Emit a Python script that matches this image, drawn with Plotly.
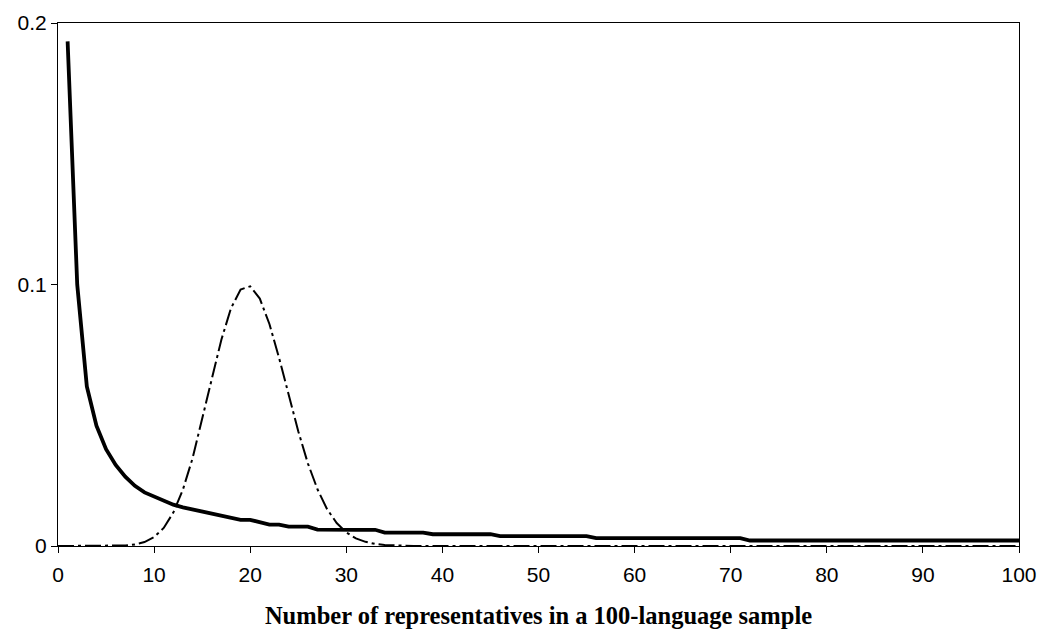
import plotly.graph_objects as go

# x positions (number of representatives)
x_vals = list(range(0, 101))

# thick solid curve (values read for x = 1..100)
solid_x = list(range(1, 101))
solid_y = [
    0.193, 0.100, 0.061, 0.046, 0.037, 0.031, 0.0265, 0.0230, 0.0205, 0.0190,
    0.0172, 0.0158, 0.0148, 0.0140, 0.0132, 0.0124, 0.0116, 0.0108, 0.0100, 0.0100,
    0.0090, 0.0082, 0.0082, 0.0074, 0.0074, 0.0074, 0.0063, 0.0062, 0.0062, 0.0062,
    0.0062, 0.0062, 0.0062, 0.0051, 0.0051, 0.0051, 0.0051, 0.0051, 0.0045, 0.0045,
    0.0045, 0.0045, 0.0045, 0.0045, 0.0045, 0.0038, 0.0038, 0.0038, 0.0038, 0.0038,
    0.0038, 0.0038, 0.0038, 0.0038, 0.0038, 0.0030, 0.0030, 0.0030, 0.0030, 0.0030,
    0.0030, 0.0030, 0.0030, 0.0030, 0.0030, 0.0030, 0.0030, 0.0030, 0.0030, 0.0030,
    0.0030, 0.0021, 0.0021, 0.0021, 0.0021, 0.0021, 0.0021, 0.0021, 0.0021, 0.0021,
    0.0021, 0.0021, 0.0021, 0.0021, 0.0021, 0.0021, 0.0021, 0.0021, 0.0021, 0.0021,
    0.0021, 0.0021, 0.0021, 0.0021, 0.0021, 0.0021, 0.0021, 0.0021, 0.0021, 0.0021,
]

# dash-dot bell curve (values read for x = 0..100)
bell_y = [
    0, 0, 0, 0, 0, 0.00002, 0.00006, 0.0002, 0.0006, 0.0015,
    0.0034, 0.0069, 0.0128, 0.0216, 0.0335, 0.0481, 0.0638, 0.0789, 0.0909, 0.0981,
    0.0993, 0.0946, 0.0849, 0.0720, 0.0577, 0.0439, 0.0316, 0.0217, 0.0141, 0.0088,
    0.0052, 0.0029, 0.0016, 0.0008, 0.0004, 0.0002, 0.00009, 0.00004, 0.00001, 0,
] + [0] * 61

x_ticks = [0, 10, 20, 30, 40, 50, 60, 70, 80, 90, 100]
y_ticks = [0, 0.1, 0.2]
y_tick_labels = ["0", "0.1", "0.2"]
x_title = "Number of representatives in a 100-language sample"

fig = go.Figure()
fig.add_trace(go.Scatter(
    x=x_vals, y=bell_y, mode="lines",
    line=dict(color="black", width=2, dash="16px,4px,3px,4px"),
    showlegend=False, hoverinfo="skip"))
fig.add_trace(go.Scatter(
    x=solid_x, y=solid_y, mode="lines",
    line=dict(color="black", width=3.8),
    showlegend=False, hoverinfo="skip"))

fig.update_layout(
    width=1049, height=634,
    margin=dict(l=50, r=38, t=15, b=96, autoexpand=False),
    paper_bgcolor="white", plot_bgcolor="white",
    font=dict(family="Liberation Sans, Arial, sans-serif", size=21, color="black"),
)
fig.update_xaxes(
    range=[0, 100], tickvals=x_ticks, ticks="outside", ticklen=6, tickwidth=1,
    tickcolor="black", showline=True, linecolor="black", linewidth=1, mirror=True,
    showgrid=False, zeroline=False, ticklabelstandoff=4, automargin=False,
    tickfont=dict(family="Liberation Sans, Arial, sans-serif", size=21),
    title=dict(text="<b>" + x_title + "</b>",
               font=dict(family="Liberation Serif, Times New Roman, serif", size=24.5),
               standoff=21),
)
fig.update_yaxes(
    range=[0, 0.2], tickvals=y_ticks, ticktext=y_tick_labels, ticks="outside",
    ticklen=6, tickwidth=1, tickcolor="black", showline=True, linecolor="black",
    linewidth=1, mirror=True, showgrid=False, zeroline=False, automargin=False,
    tickfont=dict(family="Liberation Sans, Arial, sans-serif", size=21),
)

fig.write_html("out.html")
